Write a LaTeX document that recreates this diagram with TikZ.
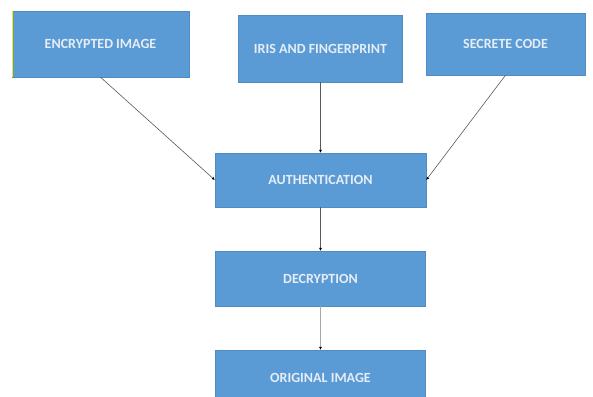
\documentclass[tikz,border=0pt]{standalone}
\usepackage{fontspec}
\setmainfont{Carlito}
\usetikzlibrary{arrows.meta}
\definecolor{boxblue}{HTML}{5B9BD5}
\definecolor{boxtext}{HTML}{E6EDF6}

\begin{document}
\begin{tikzpicture}[x=1pt,y=-1pt,
    blk/.style={fill=boxblue, draw=boxblue!90!black, line width=0.4pt, text=boxtext, font=\fontsize{14}{16}\selectfont\bfseries, inner sep=0pt},
    link/.style={draw=black!65, line width=0.6pt, -{Latex[length=3pt,width=3pt,black]}}]
    \useasboundingbox (0,0) rectangle (593,396);
    \node[blk, minimum width=177pt, minimum height=66pt] (enc) at (100.5,44) {ENCRYPTED IMAGE};
    \node[blk, minimum width=164pt, minimum height=67pt] (iris) at (320.5,48.5) {IRIS AND FINGERPRINT};
    \node[blk, minimum width=159pt, minimum height=62pt] (code) at (505.5,44) {SECRETE CODE};
    \node[blk, minimum width=211pt, minimum height=54pt] (auth) at (320.5,180) {AUTHENTICATION};
    \node[blk, minimum width=210pt, minimum height=55pt] (dec) at (320.5,278.5) {DECRYPTION};
    \node[blk, minimum width=210pt, minimum height=56pt] (orig) at (320.5,378) {ORIGINAL IMAGE};
    \draw[yellow!90!orange, line width=1.5pt] ([xshift=0.75pt]enc.north west) -- ([xshift=0.75pt]enc.south west);
    \draw[link] (enc.south) -- (auth.west);
    \draw[link] (iris) -- (auth);
    \draw[link] (code.south) -- (auth.east);
    \draw[link] (auth) -- (dec);
    \draw[link, draw=black!35] (dec) -- (orig);
  \end{tikzpicture}
\end{document}
